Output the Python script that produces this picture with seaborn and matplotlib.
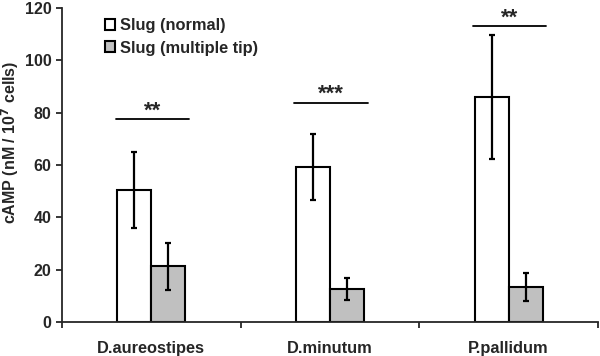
import pandas as pd
import numpy as np
import seaborn as sns
import matplotlib.pyplot as plt

# Datos
especies = ["D.aureostipes", "D.minutum", "P.pallidum"]
grupos = ["Slug (normal)", "Slug (multiple tip)"]
normal = [50.3, 59.3, 86.0]
normal_err = [14.5, 12.5, 23.6]
multiple = [21.3, 12.6, 13.4]
multiple_err = [9.0, 4.1, 5.3]
estrellas = ["**", "***", "**"]
altura_linea = [77.5, 83.7, 113.0]

df = pd.DataFrame({
    "especie": especies * 2,
    "grupo": [grupos[0]] * 3 + [grupos[1]] * 3,
    "camp": normal + multiple,
    "err": normal_err + multiple_err,
})

sns.set_style("white")
plt.rcParams["font.family"] = ["Liberation Sans", "DejaVu Sans"]
plt.rcParams["font.weight"] = "bold"

fig = plt.figure(figsize=(6, 3.56), dpi=100)
ax = fig.add_axes([0.1033, 0.0955, 0.8934, 0.882])

sns.barplot(data=df, x="especie", y="camp", hue="grupo", order=especies,
            hue_order=grupos, palette=["white", "#c0c0c0"], width=0.38,
            edgecolor="black", linewidth=1.5, errorbar=None, ax=ax)

# Barras de error
for i, grupo in enumerate(grupos):
    cont = ax.containers[i]
    sub = df[df["grupo"] == grupo].set_index("especie").loc[especies]
    xs = [p.get_x() + p.get_width() / 2 for p in cont.patches]
    ax.errorbar(xs, sub["camp"], yerr=sub["err"], fmt="none", ecolor="black",
                elinewidth=1.6, capsize=2.5, capthick=1.6, zorder=5)

# Lineas de significancia
for j in range(3):
    x0 = ax.containers[0].patches[j].get_x() - 0.01
    x1 = ax.containers[1].patches[j].get_x() + ax.containers[1].patches[j].get_width() + 0.02
    ax.plot([x0, x1], [altura_linea[j]] * 2, color="black", lw=1.3)
    ax.text((x0 + x1) / 2, altura_linea[j] + 3.2, estrellas[j], ha="center",
            va="center", fontsize=16, fontweight="bold")

ax.set_xlim(-0.5, 2.5)
ax.set_ylim(0, 120)
ax.set_yticks(range(0, 121, 20))
ax.set_xticks([-0.5, 0.5, 1.5, 2.5], minor=True)
ax.tick_params(axis="x", which="major", length=0, pad=14, labelsize=11.8)
ax.tick_params(axis="x", which="minor", length=4, width=1.3, direction="out", bottom=True)
ax.tick_params(axis="y", length=4, width=1.3, direction="out", left=True, labelsize=11.5)
for lab in ax.get_xticklabels() + ax.get_yticklabels():
    lab.set_fontweight("bold")

sns.despine(ax=ax)
ax.spines["left"].set_linewidth(1.3)
ax.spines["bottom"].set_linewidth(1.3)

ax.set_xlabel("")
ax.set_ylabel("cAMP (nM / 10$^{\\mathbf{7}}$ cells)", fontsize=11.5, fontweight="bold")
ax.yaxis.set_label_coords(-0.077, 0.573)

ax.legend(loc="upper left", frameon=False, handlelength=0.65, handleheight=0.65,
          handletextpad=0.25, labelspacing=0.45, prop={"weight": "bold", "size": 11.8})
leg = ax.get_legend()
leg.set_bbox_to_anchor((0.15, 0.99), transform=fig.transFigure)

fig.savefig("out.png", dpi=100)
